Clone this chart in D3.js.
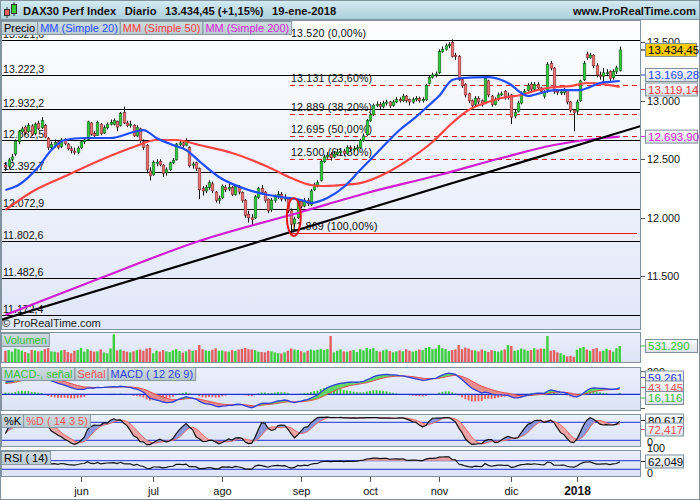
<!DOCTYPE html>
<html>
<head>
<meta charset="utf-8">
<script src="https://cdn.jsdelivr.net/npm/d3@7"></script>
<style>
body{margin:0;background:#fff}
svg{display:block;font-family:"Liberation Sans",Arial,sans-serif}
</style>
</head>
<body>
<div id="content"></div>
<script>
const w = 700
const h = 500

// daily candles [open, high, low, close], 28-abr-2017 .. 19-ene-2018
const candles = [
 [12450,12470,12400,12430],[12440,12510,12420,12495],[12500,12545,12480,12520],[12545,12670,12530,12655],[12650,12750,12630,12735],
 [12735,12780,12720,12760],[12775,12790,12710,12730],[12740,12810,12725,12790],[12785,12800,12700,12715],[12720,12815,12705,12800],
 [12805,12830,12750,12765],[12770,12860,12760,12830],[12790,12800,12680,12690],[12680,12690,12580,12600],[12600,12650,12580,12625],
 [12620,12670,12600,12645],[12650,12660,12585,12600],[12610,12680,12595,12665],[12660,12680,12620,12635],[12630,12640,12575,12590],
 [12590,12610,12550,12575],[12570,12600,12540,12560],[12560,12610,12545,12595],[12600,12665,12590,12650],[12650,12690,12630,12665],
 [12670,12830,12660,12820],[12810,12820,12700,12715],[12720,12740,12680,12700],[12705,12830,12700,12815],[12800,12810,12705,12720],
 [12725,12790,12715,12770],[12770,12815,12755,12800],[12800,12840,12790,12815],[12800,12850,12790,12830],[12825,12830,12740,12775],
 [12790,12905,12780,12890],[12900,12950,12800,12810],[12810,12830,12775,12790],[12790,12830,12770,12800],[12790,12800,12690,12700],
 [12700,12790,12690,12770],[12760,12770,12640,12660],[12650,12670,12580,12600],[12620,12630,12380,12410],[12400,12430,12320,12360],
 [12370,12490,12360,12475],[12470,12500,12440,12475],[12480,12500,12440,12455],[12450,12460,12350,12380],[12385,12430,12360,12410],
 [12410,12480,12400,12470],[12470,12510,12460,12490],[12495,12640,12490,12630],[12625,12660,12610,12640],[12640,12660,12600,12620],
 [12620,12680,12610,12650],[12600,12610,12430,12445],[12450,12480,12420,12460],[12470,12480,12400,12420],[12420,12430,12160,12240],
 [12250,12270,12190,12230],[12230,12280,12210,12260],[12260,12320,12240,12300],[12290,12310,12210,12230],[12220,12230,12130,12150],
 [12150,12190,12120,12165],[12170,12285,12160,12270],[12260,12280,12220,12240],[12245,12290,12230,12260],[12260,12270,12185,12200],
 [12200,12285,12190,12270],[12270,12280,12200,12220],[12215,12225,12130,12150],[12150,12160,12000,12020],[12030,12060,11960,12000],
 [12000,12030,11930,11985],[12000,12195,11990,12180],[12175,12265,12160,12250],[12250,12280,12200,12220],[12220,12230,12130,12150],
 [12160,12165,12040,12060],[12070,12170,12050,12150],[12150,12200,12130,12180],[12180,12230,12160,12200],[12200,12220,12140,12160],
 [12160,12200,12140,12170],[12160,12170,12040,12060],[12060,12080,11869,11945],[11950,12010,11920,11990],[12000,12155,11990,12140],
 [12140,12160,12080,12100],[12100,12170,12090,12150],[12150,12170,12100,12120],[12110,12245,12100,12230],[12240,12300,12230,12280],
 [12280,12320,12260,12300],[12320,12495,12310,12480],[12480,12540,12470,12520],[12520,12560,12505,12535],[12540,12560,12490,12515],
 [12520,12570,12510,12545],[12545,12590,12530,12560],[12560,12590,12540,12570],[12570,12590,12530,12550],[12550,12620,12540,12600],
 [12600,12620,12570,12590],[12590,12615,12565,12590],[12590,12625,12575,12600],[12600,12675,12590,12660],[12660,12720,12650,12700],
 [12710,12845,12700,12830],[12830,12900,12820,12880],[12880,12975,12870,12960],[12960,12995,12945,12970],[12970,12990,12930,12950],
 [12950,13000,12935,12980],[12980,13010,12960,12990],[12990,13000,12940,12960],[12960,13010,12950,12990],[12990,13030,12980,13010],
 [13010,13030,12985,13000],[13000,13060,12990,13040],[13040,13050,12985,13000],[13010,13020,12960,12990],[12990,13030,12975,13010],
 [13010,13040,12995,13020],[13020,13035,12985,13000],[13000,13030,12985,13010],[13010,13145,13000,13130],[13150,13215,13140,13200],
 [13200,13240,13190,13220],[13220,13250,13200,13230],[13240,13440,13230,13420],[13420,13465,13410,13440],[13440,13490,13430,13470],
 [13470,13500,13450,13480],[13500,13525,13370,13380],[13390,13410,13350,13380],[13380,13390,13170,13180],[13180,13200,13110,13130],
 [13140,13150,13030,13050],[13060,13070,12980,13000],[13000,13010,12940,12960],[12970,13040,12950,13020],[13020,13040,12970,12990],
 [13000,13010,12950,12970],[12980,13200,12970,13190],[13170,13180,13030,13050],[13040,13050,12950,12970],[12970,13030,12960,13010],
 [13010,13070,13000,13050],[13050,13080,13040,13060],[13080,13090,13010,13030],[13030,13070,13010,13040],[13050,13060,12800,12860],
 [12870,12930,12850,12900],[12910,13000,12900,12980],[12980,13080,12970,13060],[13060,13100,13050,13080],[13090,13150,13080,13130],
 [13140,13160,13080,13100],[13100,13160,13090,13140],[13140,13160,13090,13110],[13110,13120,13060,13080],[13040,13090,13020,13070],
 [13080,13330,13070,13310],[13320,13340,13260,13280],[13280,13290,13060,13080],[13080,13100,13050,13070],[13070,13100,13050,13075],
 [13070,13110,13050,13090],[13090,13100,12970,12990],[12990,13000,12900,12920],[12920,12930,12740,12900],[12910,13010,12880,12990],
 [13000,13180,12990,13170],[13180,13340,13170,13320],[13400,13420,13350,13370],[13370,13410,13360,13390],[13390,13400,13280,13300],
 [13300,13320,13200,13220],[13220,13250,13180,13210],[13210,13280,13150,13240],[13240,13270,13210,13240],[13250,13260,13170,13190],
 [13200,13270,13180,13250],[13250,13300,13230,13282],[13260,13464,13250,13434.45]
]

// volume, thousands
const volumes = [
 380,400,350,450,420,380,340,300,410,390, 360,380,430,460,360,350,330,390,410,340,
 300,380,400,470,350,430,380,350,360,420, 330,300,450,900,390,420,380,350,330,360,
 400,420,380,450,470,300,380,350,400,360, 340,390,430,370,320,360,420,380,400,560,
 430,390,370,410,460,380,390,360,350,400, 380,420,440,470,430,420,400,350,340,330,
 380,360,330,300,290,330,380,450,420,400, 360,330,380,420,390,410,440,400,430,850,
 330,380,420,360,350,380,400,340,430,390, 470,430,460,380,350,390,420,370,330,360,
 390,360,430,380,350,380,420,400,470,500, 430,450,560,460,430,370,400,420,560,430,
 480,450,400,390,360,420,380,340,400,370, 350,390,420,560,530,380,400,450,420,380,
 400,460,420,450,440,850,380,400,330,300, 250,200,220,190,410,470,500,420,380,440,
 470,360,380,440,400,350,460,531.29
]

// moving averages: [candle index, value]
const sma20 = [[0,12238],[4,12280],[10,12434],[14,12579],[18,12665],[24,12682],[32,12682],[39,12733],[42,12750],
 [46,12682],[51,12622],[55,12580],[59,12485],[65,12349],[74,12238],[80,12195],[84,12178],[90,12152],[93,12127],
 [98,12169],[103,12263],[108,12409],[111,12494],[116,12639],[120,12750],[125,12862],[129,12964],[132,13041],
 [136,13178],[139,13195],[147,13203],[151,13178],[154,13135],[157,13067],[159,13041],[163,13067],[167,13092],
 [175,13092],[178,13118],[181,13152],[184,13161],[187,13169.28]]
const sma50 = [[0,12067],[8,12221],[19,12366],[29,12494],[39,12605],[46,12665],[52,12665],[59,12622],[69,12554],
 [80,12434],[87,12340],[93,12280],[96,12272],[102,12280],[108,12297],[116,12383],[124,12520],[130,12648],
 [136,12810],[141,12921],[146,12981],[151,13024],[157,13050],[162,13092],[167,13118],[172,13126],[177,13152],
 [182,13143],[187,13119.14]]
const sma200 = [[0,11169],[29,11485],[59,11802],[90,12050],[110,12212],[132,12366],[151,12511],[167,12622],
 [182,12682],[187,12693.9]]

const levels = [13521.6, 13222.3, 12932.2, 12662.5, 12392.7, 12072.9, 11802.6, 11482.6, 11172.4]
const levelLabels = ["13.521,6", "13.222,3", "12.932,2", "12.662,5", "12.392,7", "12.072,9", "11.802,6", "11.482,6", "11.172,4"]
const fibValues = [13520, 13131, 12889, 12695, 12500, 11869]
const fibLabels = ["13.520 (0,00%)", "13.131 (23,60%)", "12.889 (38,20%)", "12.695 (50,00%)", "12.500 (61,80%)", "11.869 (100,00%)"]
const trendLine = [[-1.6, 11126], [193.5, 12785]]
const circled = [87.8, 12007]

const priceTicks = [11500, 12000, 12500, 13000, 13500]
const monthTicks = [23, 45, 66, 90, 111, 132, 154, 174]
const monthLabels = ["jun", "jul", "ago", "sep", "oct", "nov", "dic", "2018"]

// last values shown in the boxes
const lastMacd = [59.261, 43.145, 16.116]
const lastStoch = [80.617, 72.417]
const lastRsi = 62.049
const macdSeed = [12360, 12250, 95]   // ema12, ema26, signal at first candle
const rsiSeed = [40, 24.5]            // avg gain, avg loss

// ---------------- indicators from the candles
const closes = candles.map(d => d[3])
let e12 = macdSeed[0], e26 = macdSeed[1], sig = macdSeed[2]
const macd = [], signal = [], hist = []
closes.forEach((c, i) => {
  if (i > 0) { e12 += (c - e12) * 2 / 13; e26 += (c - e26) * 2 / 27 }
  const m = e12 - e26
  if (i > 0) sig += (m - sig) * 2 / 10
  macd.push(m); signal.push(sig); hist.push(m - sig)
})
let ag = rsiSeed[0], al = rsiSeed[1]
const rsi = closes.map((c, i) => {
  if (i > 0) {
    const ch = c - closes[i - 1]
    ag = (ag * 13 + Math.max(ch, 0)) / 14
    al = (al * 13 + Math.max(-ch, 0)) / 14
  }
  return 100 - 100 / (1 + ag / al)
})
const raw = candles.map((d, i) => {
  const win = candles.slice(Math.max(0, i - 13), i + 1)
  const hh = d3.max(win, e => e[1]), ll = d3.min(win, e => e[2])
  return 100 * (d[3] - ll) / (hh - ll)
})
const sma = (arr, n) => arr.map((v, i) => d3.mean(arr.slice(Math.max(0, i - n + 1), i + 1)))
const stochK = sma(raw, 3)
const stochD = sma(stochK, 5)

// ---------------- layout
const L = 1, R = 641
const svg = d3.select("#content").append("svg").attr("width", w).attr("height", h)
const defs = svg.append("defs")
function grad(id, c1, c2) {
  const g = defs.append("linearGradient").attr("id", id).attr("x1", 0).attr("y1", 0).attr("x2", 0).attr("y2", 1)
  g.append("stop").attr("offset", 0).attr("stop-color", c1)
  g.append("stop").attr("offset", 1).attr("stop-color", c2)
}
grad("hdr", "#d6ebf2", "#a9cedc")
grad("mainbg", "#fdfdff", "#e0e7f7")
grad("subbg", "#eaeffb", "#dbe3f5")
grad("leg", "#d0dce2", "#b8c8d0")
grad("box", "#fbfcfd", "#d8e0e8")

svg.append("rect").attr("width", w).attr("height", h).attr("fill", "#fff")

const x = d3.scaleLinear().domain([0, candles.length - 1]).range([5.4, 619.7])
const y = d3.scaleLinear().domain([11500, 13500]).range([276.3, 42.3])
const fmt = d3.formatLocale({decimal: ",", thousands: ".", grouping: [3], currency: ["", ""]})

function clip(id, top, bottom) {
  defs.append("clipPath").attr("id", id).append("rect")
    .attr("x", L).attr("y", top).attr("width", R - L).attr("height", bottom - top)
  svg.append("rect").attr("x", L).attr("y", top).attr("width", R - L).attr("height", bottom - top)
    .attr("fill", id == "cmain" ? "url(#mainbg)" : "url(#subbg)")
  return svg.append("g").attr("clip-path", "url(#" + id + ")")
}
function frame(top, bottom) {
  svg.append("rect").attr("x", L + 0.5).attr("y", top + 0.5).attr("width", R - L - 1).attr("height", bottom - top - 1)
    .attr("fill", "none").attr("stroke", "#8293a0")
}
function legend(x0, y0, items) {
  let xx = x0
  items.forEach(([t, c]) => {
    const r = svg.append("rect").attr("x", xx + 0.5).attr("y", y0 + 0.5).attr("height", 13)
      .attr("fill", "url(#leg)").attr("stroke", "#8698a2")
    const tx = svg.append("text").attr("x", xx + 3).attr("y", y0 + 11).attr("fill", c)
      .attr("font-size", 11).text(t)
    const tw = tx.node().getComputedTextLength()
    r.attr("width", tw + 5)
    xx += tw + 5
  })
}
function valueBox(yc, t, color, bg, bw) {
  svg.append("line").attr("x1", R).attr("x2", 646).attr("y1", yc).attr("y2", yc).attr("stroke", color)
  svg.append("rect").attr("x", 645.5).attr("y", yc - 6.5).attr("width", bw).attr("height", 13)
    .attr("fill", bg).attr("stroke", "#7e8e9a")
  svg.append("text").attr("x", 648).attr("y", yc + 4).attr("fill", color).attr("font-size", 11.5).text(t)
}
function bandFill(g, a, b, ys, up, down) {
  for (let i = 0; i < a.length - 1; i++) {
    const da = a[i] - b[i], db = a[i + 1] - b[i + 1]
    const seg = (i0, t0, t1, col) => {
      if (col == "none") return
      const pa = t => [x(i0 + t), ys(a[i0] + t * (a[i0 + 1] - a[i0]))]
      const pb = t => [x(i0 + t), ys(b[i0] + t * (b[i0 + 1] - b[i0]))]
      g.append("path").attr("d", "M" + [pa(t0), pa(t1), pb(t1), pb(t0)].join("L") + "Z")
        .attr("fill", col).attr("stroke", col).attr("stroke-width", 0.3)
    }
    if (da * db < 0) {
      const t = da / (da - db)
      seg(i, 0, t, da > 0 ? up : down)
      seg(i, t, 1, db > 0 ? up : down)
    } else seg(i, 0, 1, da + db >= 0 ? up : down)
  }
}

// ---------------- header
svg.append("rect").attr("width", w).attr("height", 20).attr("fill", "url(#hdr)")
svg.append("line").attr("x1", 0).attr("x2", w).attr("y1", 19.5).attr("y2", 19.5).attr("stroke", "#8193a0")
svg.append("line").attr("x1", 7).attr("x2", 7).attr("y1", 7).attr("y2", 18).attr("stroke", "#333")
svg.append("rect").attr("x", 4.5).attr("y", 9.5).attr("width", 5).attr("height", 6).attr("fill", "#f06060").attr("stroke", "#333")
svg.append("line").attr("x1", 14).attr("x2", 14).attr("y1", 2).attr("y2", 16).attr("stroke", "#333")
svg.append("rect").attr("x", 11.5).attr("y", 4.5).attr("width", 5).attr("height", 9).attr("fill", "#33cc33").attr("stroke", "#333")
let hx = 23
;["DAX30 Perf Index", "Diario", "13.434,45 (+1,15%)", "19-ene-2018"].forEach(t => {
  const tx = svg.append("text").attr("x", hx).attr("y", 14.5).attr("font-size", 11.2)
    .attr("font-weight", "bold").attr("fill", "#111").text(t)
  hx += tx.node().getComputedTextLength() + 8.5
})
svg.append("text").attr("x", 696).attr("y", 14.5).attr("text-anchor", "end").attr("font-size", 11.2)
  .attr("font-weight", "bold").attr("fill", "#111").text("www.ProRealTime.com")

// ---------------- price panel
const gm = clip("cmain", 20, 330)
fibValues.forEach((v, i) => {
  gm.append("line").attr("x1", 290).attr("x2", 637).attr("y1", Math.round(y(v)) + 0.5).attr("y2", Math.round(y(v)) + 0.5)
    .attr("stroke", "#e4161b").attr("stroke-dasharray", i == 0 || i == fibValues.length - 1 ? null : "5,4")
})
levels.forEach(v => {
  gm.append("line").attr("x1", L).attr("x2", R).attr("y1", Math.round(y(v)) + 0.5).attr("y2", Math.round(y(v)) + 0.5)
    .attr("stroke", "#000")
})
levels.forEach((v, i) => {
  gm.append("text").attr("x", 3).attr("y", y(v) - 2).attr("font-size", 10.6).attr("fill", "#111").text(levelLabels[i])
})
fibValues.forEach((v, i) => {
  gm.append("text").attr("x", 291).attr("y", y(v) - 3).attr("font-size", 10.6).attr("fill", "#111")
    .attr("letter-spacing", 0.2).text(fibLabels[i])
})
const cg = gm.append("g")
candles.forEach((d, i) => {
  const cx = Math.round(x(i)) + 0.5
  const up = d[3] >= d[0]
  cg.append("line").attr("x1", cx).attr("x2", cx).attr("y1", y(d[1])).attr("y2", y(d[2])).attr("stroke", "#111")
  const top = y(Math.max(d[0], d[3])), bot = y(Math.min(d[0], d[3]))
  cg.append("rect").attr("x", cx - 1.3).attr("y", top).attr("width", 2.6).attr("height", Math.max(1, bot - top))
    .attr("fill", up ? "#2ecb3a" : "#f07272").attr("stroke", up ? "#1b5e20" : "#7a2a2a").attr("stroke-width", 0.6)
})
const maLine = d3.line().x(d => x(d[0])).y(d => y(d[1])).curve(d3.curveMonotoneX)
gm.append("path").attr("d", maLine(sma200)).attr("fill", "none").attr("stroke", "#d21ed2").attr("stroke-width", 2.2)
gm.append("path").attr("d", maLine(sma50)).attr("fill", "none").attr("stroke", "#ff4444").attr("stroke-width", 2.2)
gm.append("path").attr("d", maLine(sma20)).attr("fill", "none").attr("stroke", "#1f4dff").attr("stroke-width", 2.2)
gm.append("path").attr("d", d3.line().x(d => x(d[0])).y(d => y(d[1]))(trendLine))
  .attr("fill", "none").attr("stroke", "#000").attr("stroke-width", 2.2)
gm.append("ellipse").attr("cx", x(circled[0])).attr("cy", y(circled[1])).attr("rx", 7).attr("ry", 19)
  .attr("fill", "none").attr("stroke", "#e4161b").attr("stroke-width", 2)
gm.append("text").attr("x", 2).attr("y", 327).attr("font-size", 11).attr("fill", "#222").text("\u00a9 ProRealTime.com")
frame(20, 330)
legend(1, 21, [["Precio", "#000"], ["MM (Simple 20)", "#2750ff"], ["MM (Simple 50)", "#ff4040"], ["MM (Simple 200)", "#d81fd8"]])

priceTicks.forEach(v => {
  svg.append("line").attr("x1", R).attr("x2", 645).attr("y1", Math.round(y(v)) + 0.5).attr("y2", Math.round(y(v)) + 0.5).attr("stroke", "#555")
  svg.append("text").attr("x", 647).attr("y", y(v) + 4).attr("font-size", 10.8).attr("fill", "#111").text(fmt.format(",.0f")(v))
})
valueBox(75, fmt.format(",.2f")(sma20[sma20.length - 1][1]), "#2448ff", "url(#box)", 52)
valueBox(89.5, fmt.format(",.2f")(sma50[sma50.length - 1][1]), "#f03a3a", "url(#box)", 52)
valueBox(y(sma200[sma200.length - 1][1]), fmt.format(",.2f")(sma200[sma200.length - 1][1]), "#d81fd8", "url(#box)", 52)
valueBox(y(closes[closes.length - 1]), fmt.format(",.2f")(closes[closes.length - 1]), "#000", "#ffcc00", 51)

// ---------------- volume
const yv = d3.scaleLinear().domain([0, 954]).range([362.7, 332.7])
const gv = clip("cvol", 332, 363)
volumes.forEach((v, i) => {
  const up = candles[i][3] >= candles[i][0]
  gv.append("rect").attr("x", x(i) - 1.2).attr("y", yv(v)).attr("width", 2.4).attr("height", yv(0) - yv(v))
    .attr("fill", up ? "#3ccf3c" : "#e35e5e")
})
frame(332, 363)
legend(1, 333, [["Volumen", "#34c334"]])
valueBox(346, fmt.format(",.0f")(volumes[volumes.length - 1] * 1000), "#34c334", "url(#box)", 52)

// ---------------- MACD
const ym = d3.scaleLinear().domain([0, 200]).range([394.3, 371.7])
const gmc = clip("cmacd", 367, 411)
hist.forEach((v, i) => {
  gmc.append("rect").attr("x", x(i) - 0.9).attr("y", Math.min(ym(v), ym(0))).attr("width", 1.8)
    .attr("height", Math.abs(ym(v) - ym(0))).attr("fill", v >= 0 ? "#3cc83c" : "#ec5b5b")
})
gmc.append("line").attr("x1", L).attr("x2", R).attr("y1", ym(0)).attr("y2", ym(0)).attr("stroke", "#1d2fd0").attr("stroke-width", 1.2)
bandFill(gmc, macd, signal, ym, "#63d563", "#e68c8c")
const lm = d3.line().x((d, i) => x(i)).y(d => ym(d))
gmc.append("path").attr("d", lm(signal)).attr("fill", "none").attr("stroke", "#e45050").attr("stroke-width", 1)
gmc.append("path").attr("d", lm(macd)).attr("fill", "none").attr("stroke", "#2d3fe0").attr("stroke-width", 1.3)
frame(367, 411)
legend(1, 367, [["MACD-, se\u00f1al", "#3cbf3c"], ["Se\u00f1al", "#ee5555"], ["MACD ( 12 26 9)", "#2d3fe0"]])
svg.append("line").attr("x1", R).attr("x2", 645).attr("y1", ym(200)).attr("y2", ym(200)).attr("stroke", "#555")
svg.append("text").attr("x", 647).attr("y", ym(200) + 4).attr("font-size", 10.8).attr("fill", "#111").text("200")
svg.append("line").attr("x1", R).attr("x2", 645).attr("y1", 408.5).attr("y2", 408.5).attr("stroke", "#555")
valueBox(377.5, fmt.format(",.3f")(lastMacd[0]), "#2d3fe0", "url(#box)", 38)
valueBox(387.5, fmt.format(",.3f")(lastMacd[1]), "#ee5555", "url(#box)", 38)
valueBox(398, fmt.format(",.3f")(lastMacd[2]), "#3cbf3c", "url(#box)", 38)

// ---------------- stochastic
const ys = d3.scaleLinear().domain([0, 100]).range([446.3, 416.3])
const gs = clip("cstoch", 414, 447)
;[80, 20].forEach(v => gs.append("line").attr("x1", L).attr("x2", R).attr("y1", ys(v)).attr("y2", ys(v)).attr("stroke", "#1d2fd0"))
bandFill(gs, stochK, stochD, ys, "#8896dc", "#efa2a2")
const ls = d3.line().x((d, i) => x(i)).y(d => ys(d))
gs.append("path").attr("d", ls(stochD)).attr("fill", "none").attr("stroke", "#ee6a6a").attr("stroke-width", 1)
gs.append("path").attr("d", ls(stochK)).attr("fill", "none").attr("stroke", "#111").attr("stroke-width", 1.2)
frame(414, 447)
legend(1, 414, [["%K", "#000"], ["%D ( 14 3 5)", "#ee5555"]])
svg.append("text").attr("x", 647).attr("y", 446).attr("font-size", 10.8).attr("fill", "#111").text("0")
valueBox(420.5, fmt.format(",.3f")(lastStoch[0]), "#111", "url(#box)", 38)
valueBox(429.5, fmt.format(",.3f")(lastStoch[1]), "#ee5555", "url(#box)", 38)

// ---------------- RSI
const yr = d3.scaleLinear().domain([0, 100]).range([475.75, 454.25])
const gr = clip("crsi", 450, 477)
;[70, 30].forEach(v => gr.append("line").attr("x1", L).attr("x2", R).attr("y1", yr(v)).attr("y2", yr(v)).attr("stroke", "#1d2fd0"))
bandFill(gr, rsi, rsi.map(() => 70), yr, "#e9a0a0", "none")
bandFill(gr, rsi, rsi.map(() => 30), yr, "none", "#9aa6e0")
gr.append("path").attr("d", d3.line().x((d, i) => x(i)).y(d => yr(d))(rsi)).attr("fill", "none")
  .attr("stroke", "#111").attr("stroke-width", 1.2)
frame(450, 477)
legend(1, 451, [["RSI ( 14)", "#000"]])
svg.append("text").attr("x", 647).attr("y", 452).attr("font-size", 10.8).attr("fill", "#111").text("100")
svg.append("text").attr("x", 647).attr("y", 477).attr("font-size", 10.8).attr("fill", "#111").text("0")
valueBox(461.5, fmt.format(",.3f")(lastRsi), "#111", "url(#box)", 38)

// ---------------- time axis
monthTicks.forEach((t, i) => {
  const tx = Math.round(x(t)) + 0.5
  svg.append("line").attr("x1", tx).attr("x2", tx).attr("y1", 477).attr("y2", 482).attr("stroke", "#555")
  svg.append("text").attr("x", tx).attr("y", 495).attr("text-anchor", "middle")
    .attr("font-size", i == monthLabels.length - 1 ? 12 : 11).attr("font-weight", i == monthLabels.length - 1 ? "bold" : null)
    .attr("fill", "#111").text(monthLabels[i])
})

svg.append("rect").attr("x", 0.5).attr("y", 0.5).attr("width", w - 1).attr("height", h - 1)
  .attr("fill", "none").attr("stroke", "#8293a0")
</script>
</body>
</html>
